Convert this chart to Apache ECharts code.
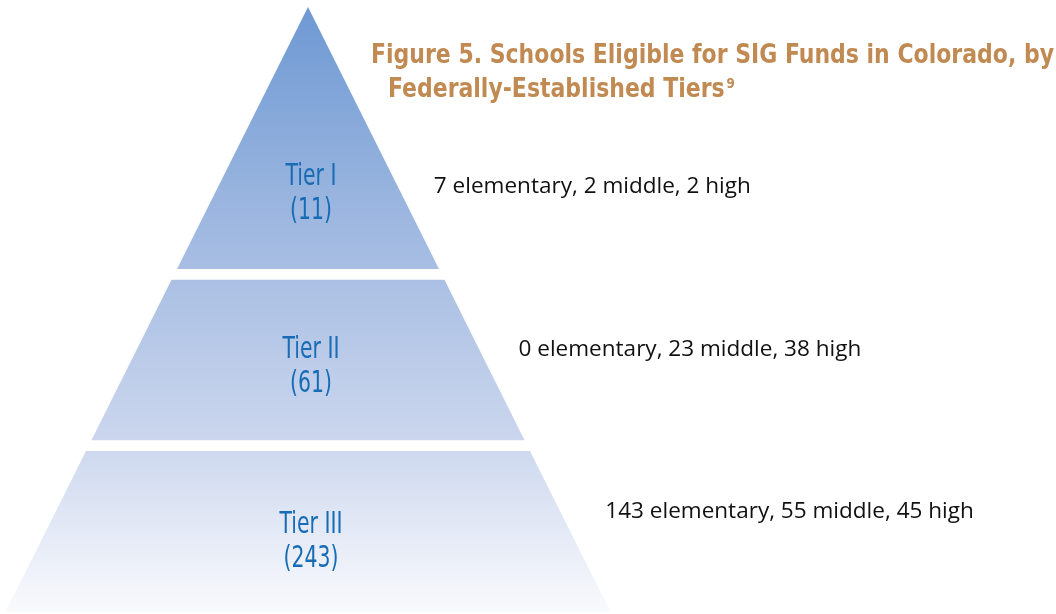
<!DOCTYPE html>
<html>
<head>
<meta charset="utf-8">
<script src="https://cdn.jsdelivr.net/npm/echarts@6/dist/echarts.min.js"></script>
<style>html,body{margin:0;padding:0;background:#fff;}#chart{width:1056px;height:614px;}</style>
</head>
<body>
<div id="chart"></div>
<script>
// ---- data ----
const tiers = ['Tier I', 'Tier II', 'Tier III'];
const totals = [11, 61, 243];
const elementary = [7, 0, 143];
const middle = [2, 23, 55];
const high = [2, 38, 45];
const titleLines = ['Figure 5. Schools Eligible for SIG Funds in Colorado, by', 'Federally-Established Tiers'];
const footnote = '9';

// ---- layout (fractions of pyramid height, 0 = apex, 1 = base) ----
const bandTop = [0, 0.451, 0.734];
const bandBottom = [0.433, 0.716, 1];
const labelPos = [0.309, 0.595, 0.885];
const notePos = [0.297, 0.567, 0.834];
const noteGap = [36, 39, 45];

const labelFont = '"DejaVu Sans Condensed", "DejaVu Sans", sans-serif';
const bodyFont = '"Open Sans", "Noto Sans", sans-serif';
const titleFont = 'bold 26px "DejaVu Sans Condensed", "DejaVu Sans", sans-serif';

const measureCtx = document.createElement('canvas').getContext('2d');
function measure(text, font) { measureCtx.font = font; return measureCtx.measureText(text).width; }

const tierFontPx = 31;
const tierScale = 63 / measure('Tier III', tierFontPx + 'px ' + labelFont);
const titleScale = 683 / measure(titleLines[0], titleFont);
const noteFont = '22px ' + bodyFont;
const noteScale = 317 / measure('7 elementary, 2 middle, 2 high', noteFont);

const chart = echarts.init(document.getElementById('chart'), null, {renderer: 'canvas'});

const seriesData = tiers.map((t, i) => [i, totals[i], elementary[i], middle[i], high[i]]);

function renderItem(params, api) {
  const i = api.value(0);
  const t0 = bandTop[i], t1 = bandBottom[i];
  const p1 = api.coord([-t0, t0]);
  const p2 = api.coord([t0, t0]);
  const p3 = api.coord([t1, t1]);
  const p4 = api.coord([-t1, t1]);
  const apex = api.coord([0, 0]);
  const base = api.coord([0, 1]);
  const grad = new echarts.graphic.LinearGradient(0, apex[1], 0, base[1], [
    {offset: 0, color: '#6e99d3'},
    {offset: 0.43, color: '#a8bee3'},
    {offset: 0.72, color: '#ccd7ee'},
    {offset: 1, color: '#f9fafd'}
  ], true);
  const lp = labelPos[i];
  const lc = api.coord([0, lp]);
  const np = notePos[i];
  const rc = api.coord([np, np]);
  return {
    type: 'group',
    children: [
      {
        type: 'polygon',
        shape: {points: i === 0 ? [apex, p3, p4] : [p1, p2, p3, p4]},
        style: {fill: grad}
      },
      {
        type: 'text',
        x: lc[0] + 3, y: lc[1],
        scaleX: tierScale,
        style: {
          text: tiers[i] + '\n(' + api.value(1) + ')',
          fill: '#176cb5',
          font: tierFontPx + 'px ' + labelFont,
          lineHeight: 34,
          align: 'center',
          verticalAlign: 'middle'
        }
      },
      {
        type: 'text',
        x: rc[0] + noteGap[i], y: rc[1],
        scaleX: noteScale,
        style: {
          text: api.value(2) + ' elementary, ' + api.value(3) + ' middle, ' + api.value(4) + ' high',
          fill: '#111',
          font: noteFont,
          align: 'left',
          verticalAlign: 'middle'
        }
      }
    ]
  };
}

chart.setOption({
  animation: false,
  grid: {left: 5.5, top: 7, width: 605, height: 605},
  xAxis: {type: 'value', min: -1, max: 1, show: false},
  yAxis: {type: 'value', min: 0, max: 1, inverse: true, show: false},
  graphic: [
    {
      type: 'text', x: 371, y: 56, scaleX: titleScale,
      style: {
        text: titleLines[0],
        fill: '#c08a52',
        font: titleFont,
        verticalAlign: 'middle'
      }
    },
    {
      type: 'text', x: 388, y: 90, scaleX: titleScale,
      style: {
        text: titleLines[1] + '{sup|' + footnote + '}',
        fill: '#c08a52',
        font: titleFont,
        verticalAlign: 'middle',
        rich: {sup: {fontSize: 14, fontWeight: 'bold', fontFamily: 'DejaVu Sans Condensed', color: '#c08a52', verticalAlign: 'top', padding: [0, 0, 10, 2]}}
      }
    }
  ],
  series: [{
    type: 'custom',
    renderItem: renderItem,
    encode: {x: 0, y: 1},
    data: seriesData,
    clip: false
  }]
});
</script>
</body>
</html>
